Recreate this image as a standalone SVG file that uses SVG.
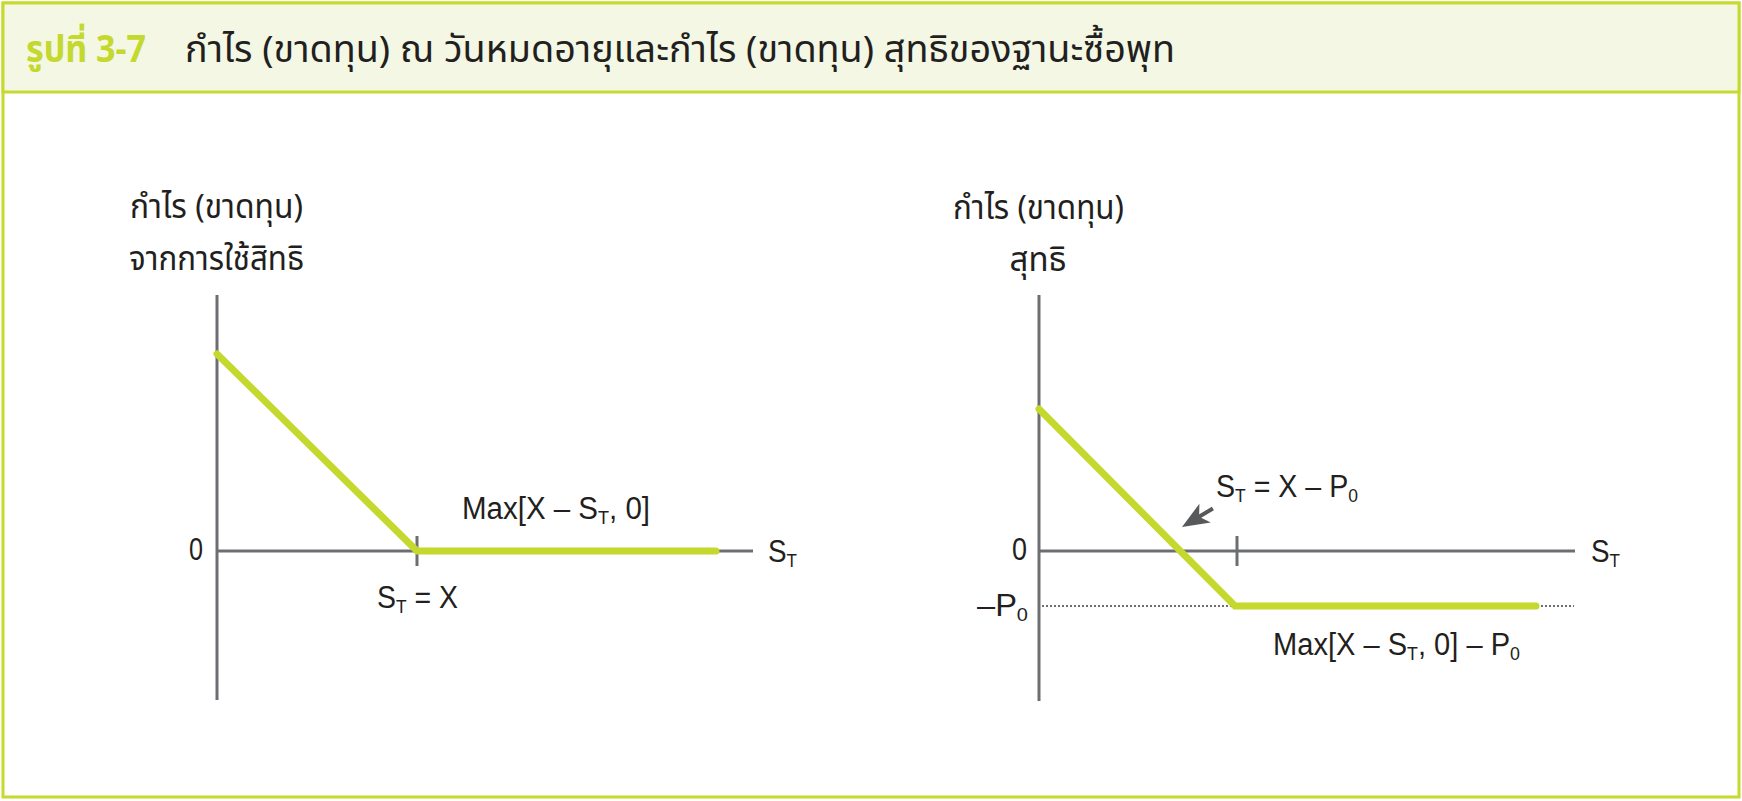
<svg xmlns="http://www.w3.org/2000/svg" width="1742" height="801" viewBox="0 0 1742 801">
<style>
.lat{font-family:"Liberation Sans",Arial,sans-serif;font-size:31px;fill:#231f20}
.thai{font-family:"Noto Sans Thai","Noto Sans","DejaVu Sans",sans-serif;font-size:33px;fill:#231f20}
.sub{font-size:19px}
.axis{stroke:#6d6e71;stroke-width:3;fill:none}
.pay{stroke:#c4d82e;stroke-width:7;fill:none;stroke-linecap:round;stroke-linejoin:miter}
.dot{stroke:#6d6e71;stroke-width:2;stroke-dasharray:2 2;fill:none}
</style>
<rect x="3" y="3" width="1736" height="794" fill="#ffffff" stroke="#c5d92e" stroke-width="3"/>
<g id="header">
<rect x="3" y="3" width="1736" height="89" fill="#f3f7e4" stroke="#c5d92e" stroke-width="3"/>
<text x="26" y="62" font-family="'Noto Sans Thai','Noto Sans','DejaVu Sans',sans-serif" font-size="37" font-weight="bold" fill="#c4d82e" textLength="120" lengthAdjust="spacingAndGlyphs">รูปที่ 3-7</text>
<text x="185" y="62" font-family="'Noto Sans Thai','Noto Sans','DejaVu Sans',sans-serif" font-size="37" fill="#231f20" textLength="990" lengthAdjust="spacingAndGlyphs">กำไร (ขาดทุน) ณ วันหมดอายุและกำไร (ขาดทุน) สุทธิของฐานะซื้อพุท</text>
</g>
<g id="left-graph">
<g id="left-axes">
<line class="axis" x1="217" y1="295" x2="217" y2="700"/>
<line class="axis" x1="217" y1="551" x2="753" y2="551"/>
<line class="axis" x1="417" y1="536" x2="417" y2="566"/>
</g>
<g id="left-payoff">
<polyline class="pay" points="217,354 417,551 716,551"/>
</g>
<g id="left-labels">
<text class="thai" x="130" y="218" textLength="173" lengthAdjust="spacingAndGlyphs">กำไร (ขาดทุน)</text>
<text class="thai" x="129" y="270" textLength="175" lengthAdjust="spacingAndGlyphs">จากการใช้สิทธิ</text>
<text class="lat" x="189" y="560" textLength="14" lengthAdjust="spacingAndGlyphs">0</text>
<text class="lat" x="768" y="562" textLength="29" lengthAdjust="spacingAndGlyphs">S<tspan class="sub" dy="5">T</tspan></text>
<text class="lat" x="377" y="608" textLength="81" lengthAdjust="spacingAndGlyphs">S<tspan class="sub" dy="5">T</tspan><tspan dy="-5"> = X</tspan></text>
<text class="lat" x="462" y="519" textLength="188" lengthAdjust="spacingAndGlyphs">Max[X – S<tspan class="sub" dy="5">T</tspan><tspan dy="-5">, 0]</tspan></text>
</g>
</g>
<g id="right-graph">
<g id="right-axes">
<line class="axis" x1="1039" y1="295" x2="1039" y2="701"/>
<line class="axis" x1="1039" y1="551" x2="1575" y2="551"/>
<line class="axis" x1="1237" y1="536" x2="1237" y2="566"/>
<line class="dot" x1="1042" y1="606" x2="1233" y2="606"/>
<line class="dot" x1="1541" y1="606" x2="1574" y2="606"/>
</g>
<g id="right-payoff">
<polyline class="pay" points="1039,409 1235,606 1536,606"/>
</g>
<g id="right-labels">
<text class="thai" x="953" y="219" textLength="171" lengthAdjust="spacingAndGlyphs">กำไร (ขาดทุน)</text>
<text class="thai" x="1038" y="271" text-anchor="middle">สุทธิ</text>
<text class="lat" x="1012" y="560" textLength="15" lengthAdjust="spacingAndGlyphs">0</text>
<text class="lat" x="1591" y="562" textLength="29" lengthAdjust="spacingAndGlyphs">S<tspan class="sub" dy="5">T</tspan></text>
<text class="lat" x="977" y="616" textLength="51" lengthAdjust="spacingAndGlyphs">–P<tspan class="sub" dy="5">0</tspan></text>
<text class="lat" x="1216" y="497" textLength="142" lengthAdjust="spacingAndGlyphs">S<tspan class="sub" dy="5">T</tspan><tspan dy="-5"> = X – P</tspan><tspan class="sub" dy="5">0</tspan></text>
<text class="lat" x="1273" y="655" textLength="247" lengthAdjust="spacingAndGlyphs">Max[X – S<tspan class="sub" dy="5">T</tspan><tspan dy="-5">, 0] – P</tspan><tspan class="sub" dy="5">0</tspan></text>
</g>
</g>
<g id="connectors">
<line x1="1199" y1="516.7" x2="1212.9" y2="508.5" stroke="#58595b" stroke-width="4"/>
<path d="M1182,527 L1199.4,503.7 L1199.1,516.7 L1210.8,522.5 Z" fill="#58595b"/>
</g>
</svg>
